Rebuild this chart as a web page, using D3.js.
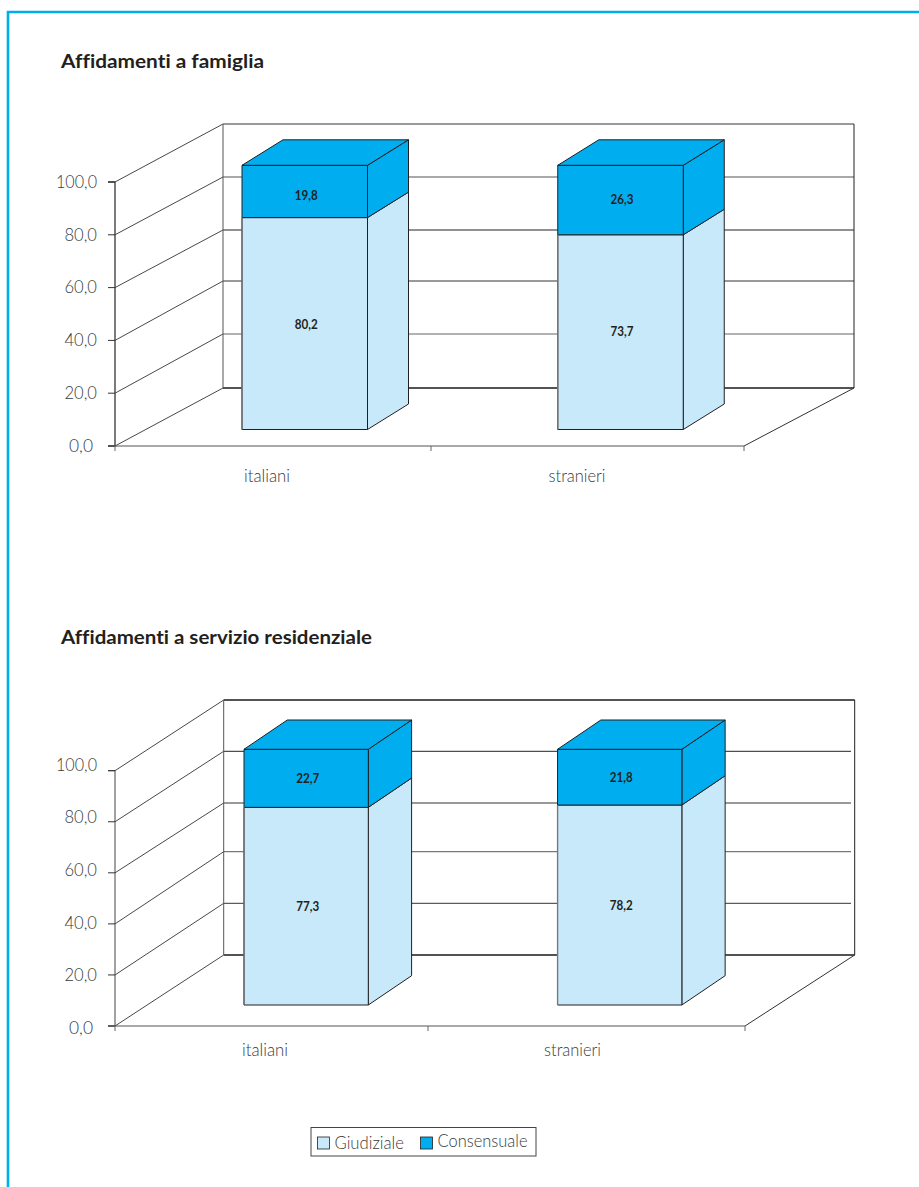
<!DOCTYPE html>
<html lang="it">
<head>
<meta charset="utf-8">
<title>Affidamenti</title>
<script src="https://cdn.jsdelivr.net/npm/d3@7"></script>
<style>
  html, body { margin: 0; padding: 0; background: #fff; }
  svg { display: block; }
  text { font-family: "Lato", "Open Sans", sans-serif; }
</style>
</head>
<body>
<svg id="page" width="919" height="1187"></svg>
<script>
// Shares of placements, by nationality of the child and type of measure.
const categories = ["italiani", "stranieri"];
const seriesNames = ["Giudiziale", "Consensuale"];
const familyJudicial = [80.2, 73.7];
const familyConsensual = [19.8, 26.3];
const residentialJudicial = [77.3, 78.2];
const residentialConsensual = [22.7, 21.8];
const axisTicks = [0, 20, 40, 60, 80, 100];

const colours = { frame: "#00aeef", light: "#c7e9fa", dark: "#00aeef", ink: "#231f20", label: "#3a3a3c" };
const decimal = d3.format(".1f");
const comma = v => decimal(v).replace(".", ",");

const svg = d3.select("#page");

// Page frame: open towards the right and bottom edges.
svg.append("path")
  .attr("d", "M919,12H8V1187")
  .attr("fill", "none").attr("stroke", colours.frame).attr("stroke-width", 2.6);

function drawChart(cfg) {
  const g = svg.append("g");
  const y = d3.scaleLinear().domain([0, 100]).range([cfg.floorY, cfg.topY]);
  const labelY = d3.scaleLinear().domain([0, 100]).range(cfg.tickLabelRange);
  const barY = d3.scaleLinear().domain([0, 100]).range(cfg.barRange);
  const x = d3.scalePoint().domain(categories).range(cfg.barCentres);
  const catX = d3.scalePoint().domain(categories).range(cfg.catLabels);

  g.append("text").text(cfg.title)
    .attr("x", 61).attr("y", cfg.titleY)
    .attr("font-size", 19.5).attr("font-weight", 700).attr("fill", colours.ink)
    .style("font-variant-ligatures", "none")
    .attr("textLength", cfg.titleWidth).attr("lengthAdjust", "spacingAndGlyphs");

  const [dx, dy] = cfg.depth;
  const backY = v => cfg.backYs[axisTicks.indexOf(v)];

  // Back wall gridlines, then the receding lines on the side wall.
  g.append("g").selectAll("line").data(axisTicks).join("line")
    .attr("x1", cfg.left + dx).attr("x2", (d, i) => (i === 0 || i === 5) ? cfg.backRight : cfg.gridRight)
    .attr("y1", backY).attr("y2", backY)
    .attr("stroke", (d, i) => cfg.gridStyles[i][0])
    .attr("stroke-width", (d, i) => cfg.gridStyles[i][1]);
  g.append("g").selectAll("line").data(axisTicks).join("line")
    .attr("x1", cfg.left).attr("y1", d => y(d))
    .attr("x2", cfg.left + dx).attr("y2", backY)
    .attr("stroke", "#333").attr("stroke-width", 0.9);

  const edges = g.append("g").attr("fill", "none").attr("stroke", "#333").attr("stroke-width", 1);
  edges.append("line").attr("x1", cfg.left + dx).attr("x2", cfg.left + dx)
    .attr("y1", backY(100)).attr("y2", backY(0)).attr("stroke", "#555");
  edges.append("line").attr("x1", cfg.backRight).attr("x2", cfg.backRight)
    .attr("y1", backY(100)).attr("y2", backY(0)).attr("stroke", "#222");
  edges.append("line").attr("x1", cfg.right).attr("y1", y(0))
    .attr("x2", cfg.backRight).attr("y2", backY(0));

  // Value axis at the front left corner.
  const yAxis = d3.axisLeft(y).tickValues(axisTicks).tickSize(7).tickPadding(0).tickFormat(comma).offset(0);
  const yG = g.append("g").attr("transform", `translate(${cfg.left},0)`).call(yAxis);
  yG.select(".domain").attr("stroke", "#444").attr("stroke-width", cfg.axisWidth);
  yG.selectAll(".tick line").attr("stroke", "#333");
  yG.selectAll(".tick text")
    .attr("x", d => d === 0 ? -22 : -18)
    .attr("y", d => labelY(d) - y(d))
    .attr("dy", 0)
    .attr("font-size", 18.5).attr("font-weight", 300).attr("fill", colours.label)
    .attr("font-family", "Lato")
    .attr("textLength", d => d === 100 ? 41 : d === 0 ? 24 : 32.5)
    .attr("lengthAdjust", "spacingAndGlyphs");

  // Category axis along the front of the floor.
  const boundaries = [cfg.left, cfg.midTick, cfg.right];
  const xAxis = d3.axisBottom(d3.scaleIdentity()).tickValues(boundaries).tickSize(5).tickFormat("").offset(0);
  const xG = g.append("g").attr("transform", `translate(0,${y(0)})`).call(xAxis);
  xG.select(".domain").attr("d", `M${cfg.left - 7},0H${cfg.right}`).attr("stroke", "#555").attr("stroke-width", 1.2);
  xG.selectAll(".tick line").attr("stroke", "#666");

  g.append("g").selectAll("text").data(categories).join("text")
    .text(d => d)
    .attr("x", d => catX(d)).attr("y", cfg.catY)
    .attr("text-anchor", "middle").attr("font-size", 18.5).attr("font-weight", 300).attr("fill", colours.label)
    .attr("textLength", (d, i) => [46, 57][i]).attr("lengthAdjust", "spacingAndGlyphs");

  // Stacked boxes: one front face and one side face per segment, plus the top.
  const [bdx, bdy] = cfg.barDepth;
  const poly = d3.line();
  const half = cfg.barWidth / 2;
  const stacks = categories.map((c, i) => {
    const low = cfg.judicial[i], high = cfg.consensual[i];
    return { c, segs: [
      { from: 0, to: low, value: low, fill: colours.light },
      { from: low, to: low + high, value: high, fill: colours.dark }
    ] };
  });

  stacks.forEach((s, si) => {
    const L = x(s.c) - half, R = x(s.c) + half;
    const box = g.append("g").attr("stroke", colours.ink).attr("stroke-width", 1).attr("stroke-linejoin", "miter");
    s.segs.forEach(seg => {
      const yb = barY(seg.from), yt = barY(seg.to);
      box.append("path").attr("fill", seg.fill)
        .attr("d", poly([[R, yb], [R + bdx, yb + bdy], [R + bdx, yt + bdy], [R, yt]]) + "Z");
      box.append("path").attr("fill", seg.fill)
        .attr("d", poly([[L, yb], [R, yb], [R, yt], [L, yt]]) + "Z");
    });
    const total = s.segs[1].to;
    box.append("path").attr("fill", colours.dark)
      .attr("d", poly([[L, barY(total)], [L + bdx, barY(total) + bdy], [R + bdx, barY(total) + bdy], [R, barY(total)]]) + "Z");
    // Softer left edge on the pale segment.
    box.append("line").attr("x1", L).attr("x2", L)
      .attr("y1", barY(0)).attr("y2", barY(s.segs[0].to)).attr("stroke", "#777").attr("stroke-width", 1.3);

    g.append("g").selectAll("text").data(s.segs).join("text")
      .text(d => comma(d.value))
      .attr("x", x(s.c) + 1.5)
      .attr("y", (d, j) => (barY(d.from) + barY(d.to)) / 2 + 4.5 + cfg.labelNudge[si][j])
      .attr("text-anchor", "middle").attr("font-size", 13).attr("font-weight", 700).attr("fill", colours.ink)
      .attr("textLength", 23).attr("lengthAdjust", "spacingAndGlyphs");
  });
}

drawChart({
  title: "Affidamenti a famiglia", titleY: 68, titleWidth: 203,
  judicial: familyJudicial, consensual: familyConsensual,
  left: 115, right: 744, midTick: 431, floorY: 446, topY: 182,
  depth: [108, -58], backRight: 854, gridRight: 854,
  backYs: [388, 334, 281, 230, 177, 124],
  gridStyles: [["#1a1a1a", 1.6], ["#666", 1.2], ["#777", 1.4], ["#222", 1], ["#555", 1.2], ["#777", 1.3]],
  axisWidth: 1.4, tickLabelRange: [451.7, 187.7], catLabels: [267, 577], catY: 482,
  barCentres: [304.75, 620.5], barWidth: 125.5, barRange: [429.5, 165.3], barDepth: [41, -25.5],
  labelNudge: [[1, 4.5], [-0.5, -0.5]]
});

drawChart({
  title: "Affidamenti a servizio residenziale", titleY: 644, titleWidth: 311,
  judicial: residentialJudicial, consensual: residentialConsensual,
  left: 115, right: 745, midTick: 428, floorY: 1026, topY: 770.7,
  depth: [108.7, -71], backRight: 854.7, gridRight: 851,
  backYs: [955, 903.3, 851.7, 803, 751.3, 700],
  gridStyles: [["#1a1a1a", 1.5], ["#333", 1], ["#777", 1.3], ["#777", 1.3], ["#222", 1], ["#1a1a1a", 1.7]],
  axisWidth: 1, tickLabelRange: [1034, 770.7], catLabels: [265, 572.5], catY: 1056,
  barCentres: [306.15, 619.7], barWidth: 124.3, barRange: [1005, 749.3], barDepth: [43.3, -29.3],
  labelNudge: [[0, 0], [0, 0]]
});

// Legend shared by the two charts.
const legend = svg.append("g");
legend.append("rect").attr("x", 311).attr("y", 1127.5).attr("width", 225).attr("height", 28.5)
  .attr("fill", "#fff").attr("stroke", "#444").attr("stroke-width", 1);
const legendX = d3.scalePoint().domain(seriesNames).range([317.5, 420.5]);
const legendFill = d3.scaleOrdinal().domain(seriesNames).range([colours.light, colours.dark]);
legend.selectAll("rect.key").data(seriesNames).join("rect").attr("class", "key")
  .attr("x", d => legendX(d)).attr("y", 1137).attr("width", 12).attr("height", 12)
  .attr("fill", d => legendFill(d)).attr("stroke", colours.ink).attr("stroke-width", 0.8);
legend.selectAll("text").data(seriesNames).join("text").text(d => d)
  .attr("x", d => legendX(d) + 17)
  .attr("y", (d, i) => i === 0 ? 1148.5 : 1147)
  .attr("font-size", 18.5).attr("font-weight", 300).attr("fill", colours.label)
  .attr("textLength", (d, i) => [69.5, 90][i]).attr("lengthAdjust", "spacingAndGlyphs");
</script>
</body>
</html>
